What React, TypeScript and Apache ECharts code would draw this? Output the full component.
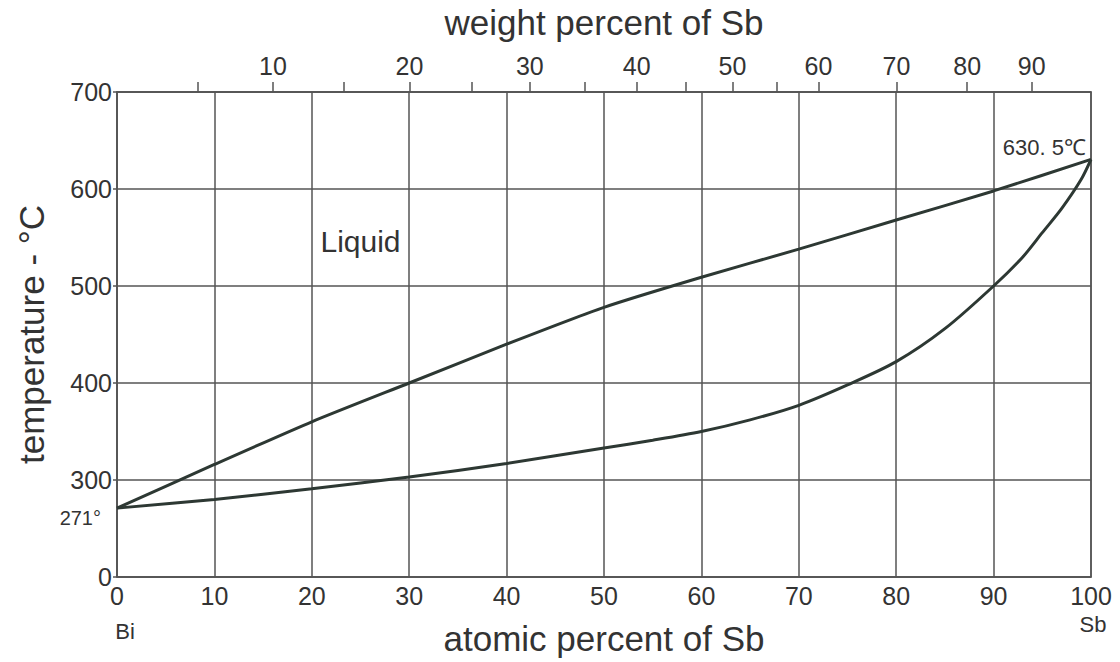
import React, { useEffect, useRef } from "react";
import * as echarts from "echarts";

// Bi–Sb phase diagram
const atomicTicks = [0, 10, 20, 30, 40, 50, 60, 70, 80, 90, 100];
const tempTickLabels = ["0", "300", "400", "500", "600", "700"];
const weightLabels = [10, 20, 30, 40, 50, 60, 70, 80, 90];
const weightMinor = [5, 15, 25, 35, 45, 55];

const liquidusAt = [0, 10, 20, 30, 40, 50, 60, 70, 80, 90, 100];
const liquidusT = [271, 316, 360, 400, 440, 478, 509, 538, 568, 598, 630.5];

const solidusAt = [0, 10, 20, 30, 40, 50, 55, 60, 65, 70, 75, 80, 85, 90, 93, 95, 97, 99, 100];
const solidusT = [271, 280, 291, 303, 317, 333, 341, 350, 362, 377, 398, 422, 456, 500, 530, 555, 580, 610, 630.5];

const annotations = [
  { name: "Liquid", at: 25, t: 546 },
];

const M_BI = 208.98;
const M_SB = 121.76;
const wtToAt = (w: number) => (100 * (w / M_SB)) / (w / M_SB + (100 - w) / M_BI);
const atToWt = (a: number) => (100 * a * M_SB) / (a * M_SB + (100 - a) * M_BI);

const FONT = "'Liberation Sans', Arial, Helvetica, sans-serif";
const TEXT = "#333333";
const GRID = "#555555";
const CURVE = "#2d3833";

export default function App() {
  const ref = useRef<HTMLDivElement>(null);
  useEffect(() => {
    if (!ref.current) return;
    const chart = echarts.init(ref.current, undefined, { renderer: "svg" });
    const zip = (xs: number[], ys: number[]) => xs.map((x, i) => [x, ys[i]]);
    const lbl = (extra: any) => ({ show: true, color: TEXT, fontFamily: FONT, opacity: 1, ...extra });
    chart.setOption({
      animation: false,
      backgroundColor: "#ffffff",
      textStyle: { fontFamily: FONT },
      grid: {
        left: 117,
        right: 29,
        top: 92,
        bottom: 85,
        outerBoundsMode: "none",
        containLabel: false,
        show: true,
        borderColor: GRID,
        borderWidth: 1.5,
      },
      xAxis: [
        {
          type: "value",
          position: "bottom",
          min: 0,
          max: 100,
          interval: 10,
          name: "atomic percent of Sb",
          nameLocation: "middle",
          nameGap: 44,
          nameTextStyle: { fontSize: 35, color: TEXT, fontFamily: FONT },
          axisLine: { show: true, lineStyle: { color: GRID, width: 1.5 } },
          axisTick: { show: false },
          axisLabel: {
            fontSize: 25,
            color: TEXT,
            margin: 6,
            fontFamily: FONT,
            formatter: (v: number) => (atomicTicks.includes(v) ? String(v) : ""),
          },
          splitLine: { show: true, lineStyle: { color: GRID, width: 1.5 } },
        },
        {
          type: "value",
          position: "top",
          min: 0,
          max: 100,
          name: "weight percent of Sb",
          nameLocation: "middle",
          nameGap: 52,
          nameTextStyle: { fontSize: 35, color: TEXT, fontFamily: FONT },
          axisLine: { show: true, lineStyle: { color: GRID, width: 1.5 } },
          axisTick: {
            show: true,
            inside: false,
            length: 10,
            lineStyle: { color: GRID, width: 1.5 },
            customValues: [...weightMinor, ...weightLabels].map(wtToAt),
          },
          axisLabel: {
            fontSize: 25,
            color: TEXT,
            margin: 14,
            fontFamily: FONT,
            customValues: weightLabels.map(wtToAt),
            formatter: (v: number) => String(Math.round(atToWt(v))),
          },
          splitLine: { show: false },
        },
      ],
      yAxis: {
        type: "value",
        min: 200,
        max: 700,
        interval: 100,
        name: "temperature - °C",
        nameLocation: "middle",
        nameGap: 68,
        nameTextStyle: { fontSize: 35, color: TEXT, fontFamily: FONT },
        axisLine: { show: true, lineStyle: { color: GRID, width: 1.5 } },
        axisTick: { show: true, length: 4, lineStyle: { color: GRID, width: 1.5 } },
        axisLabel: {
          fontSize: 25,
          color: TEXT,
          margin: 5,
          fontFamily: FONT,
          formatter: (v: number) => tempTickLabels[Math.round((v - 200) / 100)] ?? "",
        },
        splitLine: { show: true, lineStyle: { color: GRID, width: 1.5 } },
      },
      series: [
        {
          type: "line",
          name: "liquidus",
          data: zip(liquidusAt, liquidusT),
          smooth: 0.2,
          symbol: "none",
          lineStyle: { color: CURVE, width: 3 },
          z: 5,
        },
        {
          type: "line",
          name: "solidus",
          data: zip(solidusAt, solidusT),
          smooth: 0.3,
          symbol: "none",
          lineStyle: { color: CURVE, width: 3 },
          z: 5,
        },
        {
          type: "scatter",
          name: "labels",
          symbolSize: 0,
          silent: true,
          itemStyle: { opacity: 1, color: TEXT },
          data: [
            ...annotations.map((a) => ({
              value: [a.at, a.t],
              label: lbl({ formatter: a.name, position: "inside", fontSize: 30 }),
            })),
            {
              value: [liquidusAt[0], liquidusT[0]],
              label: lbl({ formatter: "271°", position: "left", distance: 16, offset: [0, 10], fontSize: 20 }),
            },
            {
              value: [liquidusAt[liquidusAt.length - 1], liquidusT[liquidusT.length - 1]],
              label: lbl({
                formatter: "630. 5℃",
                position: "insideRight",
                align: "right",
                offset: [0, -12],
                fontSize: 22,
              }),
            },
            {
              value: [0, 200],
              label: lbl({ formatter: "Bi", position: "bottom", distance: 43, offset: [8, 0], fontSize: 22 }),
            },
            {
              value: [100, 200],
              label: lbl({ formatter: "Sb", position: "bottom", distance: 36, offset: [2, 0], fontSize: 22 }),
            },
          ],
          z: 6,
        },
      ],
    });
    return () => chart.dispose();
  }, []);
  return (
    <div
      ref={ref}
      style={{ position: "fixed", left: 0, top: 0, width: 1120, height: 662, background: "#fff" }}
    />
  );
}
